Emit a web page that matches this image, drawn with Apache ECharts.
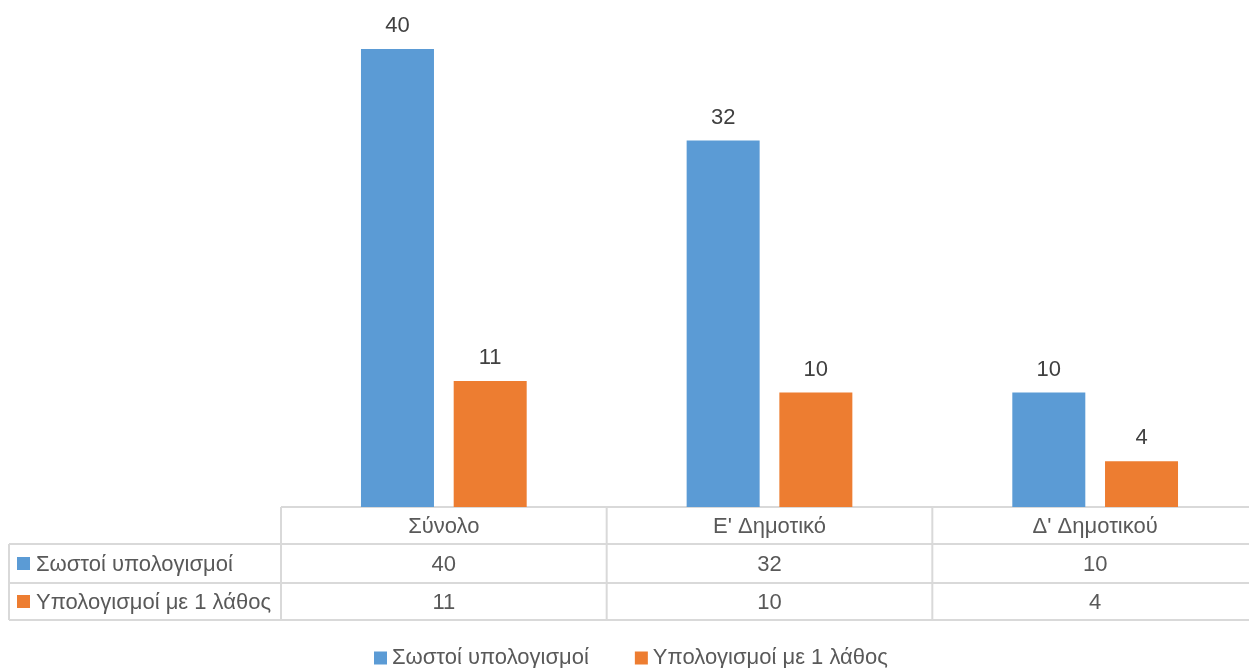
<!DOCTYPE html>
<html>
<head>
<meta charset="utf-8">
<script src="https://cdn.jsdelivr.net/npm/echarts@6/dist/echarts.min.js"></script>
<style>
  html, body { margin: 0; padding: 0; background: #fff; }
  #chart { width: 1249px; height: 668px; }
</style>
</head>
<body>
<div id="chart"></div>
<script>
// Categories and series values
const categories = ['Σύνολο', "Ε' Δημοτικό", "Δ' Δημοτικού"];
const seriesNames = ['Σωστοί υπολογισμοί', 'Υπολογισμοί με 1 λάθος'];
const correctCalcs = [40, 32, 10];
const oneErrorCalcs = [11, 10, 4];
const seriesValues = [correctCalcs, oneErrorCalcs];
const seriesColors = ['#5B9BD5', '#ED7D31'];

const FONT = 'Liberation Sans';
const TEXT_COLOR = '#595959';
const FONT_SIZE = 22;
const LINE_COLOR = '#D9D9D9';

const chart = echarts.init(document.getElementById('chart'), null, { renderer: 'canvas' });

const option = {
  animation: false,
  backgroundColor: '#fff',
  textStyle: { fontFamily: FONT },
  // plot runs a little past the right edge of the canvas
  grid: { left: 281, top: 49, width: 977, height: 458, outerBoundsMode: 'none' },
  xAxis: {
    type: 'category',
    data: categories,
    axisLine: { show: false },
    axisTick: { show: false },
    axisLabel: { show: false }
  },
  yAxis: {
    type: 'value',
    min: 0,
    max: 40,
    show: false,
    splitLine: { show: false }
  },
  legend: {
    data: seriesNames,
    left: 374,
    top: 647,
    padding: 0,
    icon: 'rect',
    itemWidth: 13,
    itemHeight: 13,
    itemGap: 46,
    textStyle: { fontFamily: FONT, fontSize: FONT_SIZE, color: TEXT_COLOR }
  },
  series: seriesNames.map((name, i) => ({
    name: name,
    type: 'bar',
    data: seriesValues[i],
    barWidth: 73,
    barGap: '27%',
    itemStyle: { color: seriesColors[i] },
    label: {
      show: true,
      position: 'top',
      distance: 12,
      fontFamily: FONT,
      fontSize: FONT_SIZE,
      color: '#404040'
    }
  }))
};

chart.setOption(option);

// Data table beneath the plot, laid out on the category axis positions
function buildTable() {
  const centers = categories.map((c, i) => chart.convertToPixel({ xAxisIndex: 0 }, i));
  const band = centers[1] - centers[0];
  const bounds = centers.map(c => c - band / 2);
  bounds.push(centers[centers.length - 1] + band / 2);

  const rowTops = [507, 544, 583, 620];
  const tableLeft = 9;
  const right = 1249;
  const els = [];
  const line = (x1, y1, x2, y2) => ({
    type: 'line',
    shape: { x1, y1, x2, y2 },
    style: { stroke: LINE_COLOR, lineWidth: 2 },
    silent: true
  });
  const text = (x, y, t, align) => ({
    type: 'text',
    x, y,
    style: {
      text: t,
      fill: TEXT_COLOR,
      font: FONT_SIZE + 'px "' + FONT + '"',
      align: align || 'center',
      verticalAlign: 'middle'
    },
    silent: true
  });

  // horizontal rules
  els.push(line(bounds[0], rowTops[0], right, rowTops[0]));
  for (let r = 1; r < rowTops.length; r++) els.push(line(tableLeft, rowTops[r], right, rowTops[r]));
  // vertical rules
  els.push(line(tableLeft, rowTops[1], tableLeft, rowTops[3]));
  for (let b = 0; b < bounds.length - 1; b++) els.push(line(bounds[b], rowTops[0], bounds[b], rowTops[3]));

  // header row: categories
  categories.forEach((c, i) => els.push(text(centers[i], (rowTops[0] + rowTops[1]) / 2 + 1, c)));
  // value rows with legend keys
  seriesNames.forEach((name, s) => {
    const yMid = (rowTops[s + 1] + rowTops[s + 2]) / 2;
    els.push({
      type: 'rect',
      shape: { x: 17, y: yMid - 6.5, width: 13, height: 13 },
      style: { fill: seriesColors[s] },
      silent: true
    });
    els.push(text(36, yMid + 1, name, 'left'));
    seriesValues[s].forEach((v, i) => els.push(text(centers[i], yMid + 1, String(v))));
  });

  chart.setOption({ graphic: { elements: els } });
}

buildTable();
</script>
</body>
</html>
